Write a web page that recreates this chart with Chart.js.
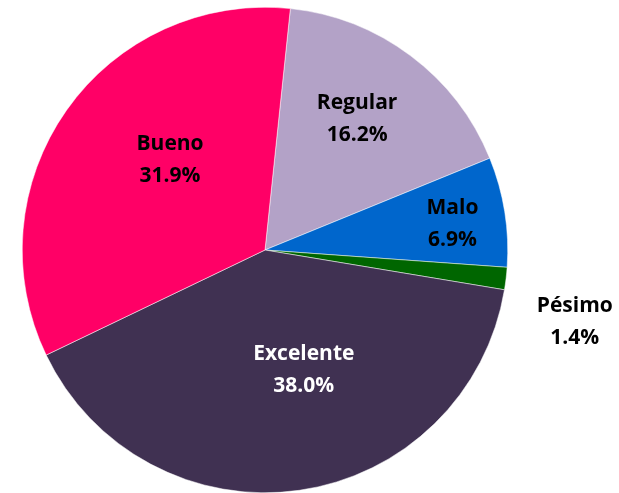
<!DOCTYPE html>
<html>
<head>
<meta charset="utf-8">
<script src="https://cdn.jsdelivr.net/npm/chart.js@4"></script>
<style>
	html, body { margin: 0; padding: 0; background: #ffffff; }
	#wrap { width: 619px; height: 493px; }
</style>
</head>
<body>
<div id="wrap"><canvas id="pie-chart" width="619" height="493"></canvas></div>
<script>
const categories = ['Regular', 'Malo', 'Pésimo', 'Excelente', 'Bueno'];
const values = [16.2, 6.9, 1.4, 38.0, 31.9];
const sliceColors = ['#b3a2c7', '#0066cc', '#006600', '#403152', '#ff0066'];
const labelColors = ['#000000', '#000000', '#000000', '#ffffff', '#000000'];

// label placement: [angle shift in degrees, distance as fraction of radius]
const labelPlace = [[-1.8, 0.66], [1.1, 0.78], [6.3, 1.31], [-9.8, 0.52], [8.4, 0.54]];

const sliceLabels = {
	id: 'sliceLabels',
	afterDatasetsDraw: (chart) => {
		const ctx = chart.ctx;
		const arcs = chart.getDatasetMeta(0).data;
		ctx.save();
		ctx.font = 'bold 21px "Open Sans", Lato, sans-serif';
		ctx.textAlign = 'center';
		ctx.textBaseline = 'middle';
		arcs.forEach((arc, i) => {
			const mid = (arc.startAngle + arc.endAngle) / 2 + labelPlace[i][0] * Math.PI / 180;
			const r = arc.outerRadius * labelPlace[i][1];
			const x = arc.x + Math.cos(mid) * r;
			const y = arc.y + Math.sin(mid) * r;
			ctx.fillStyle = labelColors[i];
			ctx.fillText(categories[i], x, y - 16);
			ctx.fillText(values[i].toFixed(1) + '%', x, y + 16);
		});
		ctx.restore();
	}
};

new Chart(document.getElementById('pie-chart'), {
	type: 'pie',
	data: {
		labels: categories,
		datasets: [{
			data: values,
			backgroundColor: sliceColors,
			borderColor: '#ffffff',
			borderWidth: 0.5
		}]
	},
	options: {
		responsive: false,
		animation: false,
		rotation: 6,
		layout: {
			padding: { left: 22, right: 111, top: 7, bottom: 0 }
		},
		plugins: {
			legend: { display: false },
			tooltip: { enabled: false }
		}
	},
	plugins: [sliceLabels]
});
</script>
</body>
</html>
